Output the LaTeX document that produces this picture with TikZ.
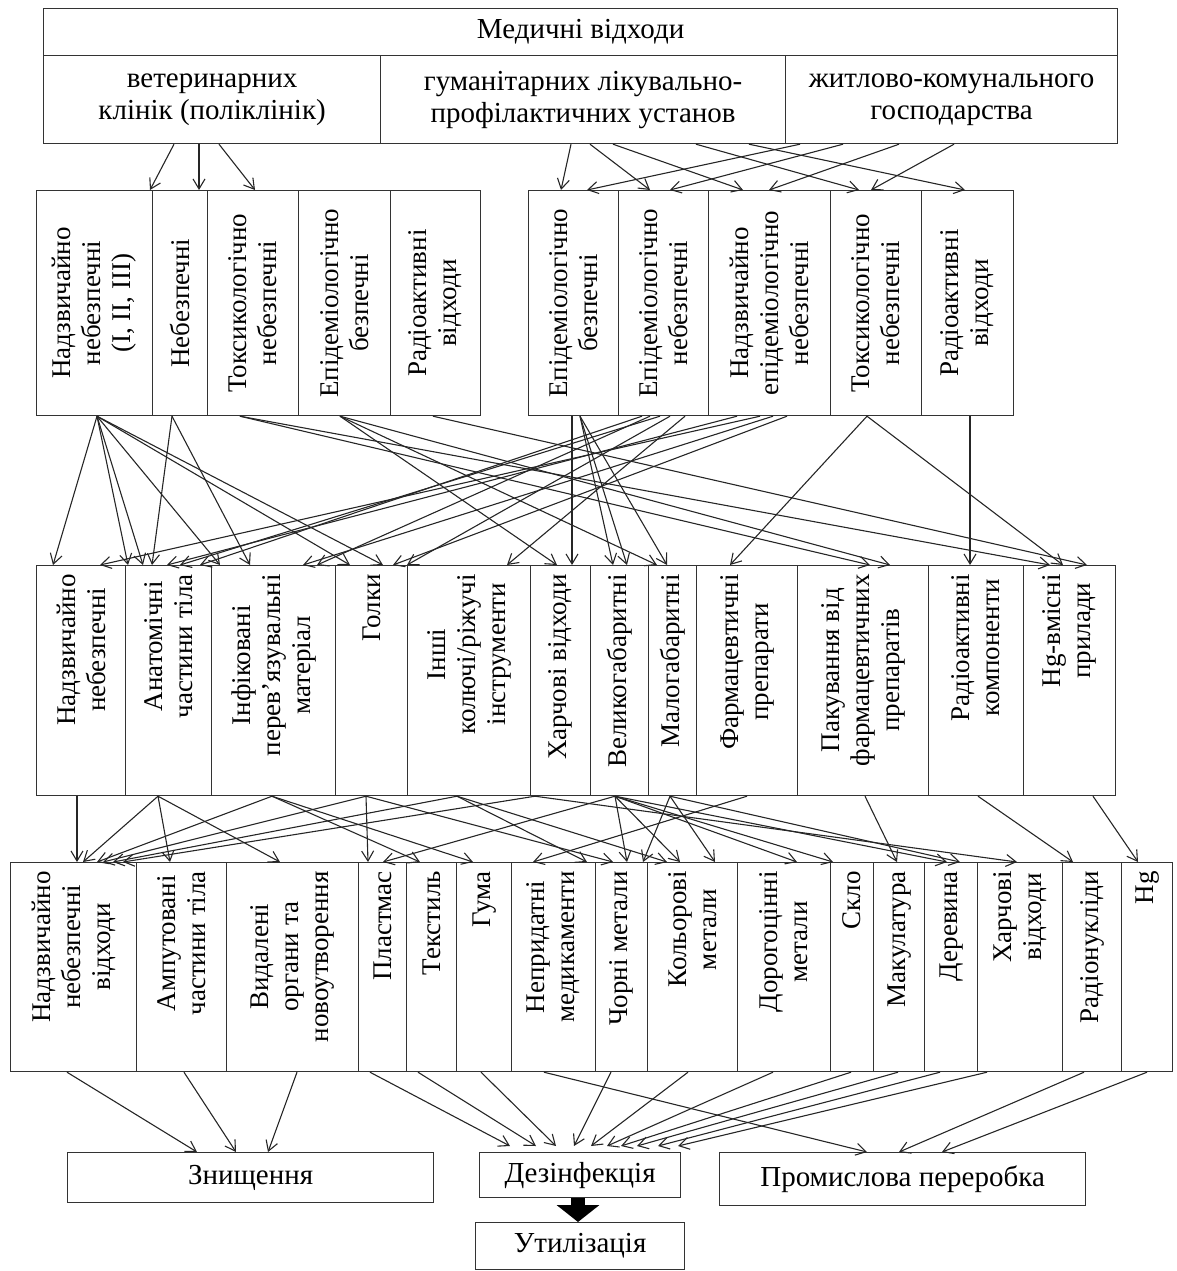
\documentclass[tikz,border=0pt]{standalone}
\usepackage{fontspec}
\setmainfont{Liberation Serif}
\usetikzlibrary{arrows.meta}

\begin{document}
\begin{tikzpicture}[
    x=1pt, y=-1pt,
    every node/.style={font=\fontsize{29}{32}\selectfont},
    box/.style={
        rectangle,
        draw=black!80,
        line width=1.2pt,
        anchor=north west,
        inner sep=0pt,
        align=center
    },
    vtxt/.style={
        rotate=90,
        align=center,
        inner sep=0pt,
        font=\fontsize{27}{30}\selectfont
    },
    arr/.style={
        -{Straight Barb[length=10pt,width=12pt]},
        line width=1.1pt,
        color=black!85
    },
    fat/.style={
        -{Triangle[length=17pt,width=42pt]},
        line width=14pt
    }
]
\useasboundingbox (0,0) rectangle (1177,1271);

% sources
\node[box, minimum width=1074pt, minimum height=47pt] (med) at (43,8) {Медичні відходи};
\node[box, minimum width=337pt, minimum height=88pt] (vet) at (43,55) {ветеринарних\\клінік (поліклінік)};
\node[box, minimum width=405pt, minimum height=88pt] (hum) at (380,55) {гуманітарних лікувально-\\профілактичних установ};
\node[box, minimum width=332pt, minimum height=88pt] (zhk) at (785,55) {житлово-комунального\\господарства};

% hazard classes
\node[box, minimum width=116pt, minimum height=225pt] (a1) at (36,190) {};
\node[box, minimum width=55pt, minimum height=225pt] (a2) at (152,190) {};
\node[box, minimum width=91pt, minimum height=225pt] (a3) at (207,190) {};
\node[box, minimum width=92pt, minimum height=225pt] (a4) at (298,190) {};
\node[box, minimum width=90pt, minimum height=225pt] (a5) at (390,190) {};
\node[box, minimum width=90pt, minimum height=225pt] (b1) at (528,190) {};
\node[box, minimum width=90pt, minimum height=225pt] (b2) at (618,190) {};
\node[box, minimum width=122pt, minimum height=225pt] (b3) at (708,190) {};
\node[box, minimum width=91pt, minimum height=225pt] (b4) at (830,190) {};
\node[box, minimum width=92pt, minimum height=225pt] (b5) at (921,190) {};
\node[vtxt] (a1t) at (a1) {Надзвичайно\\небезпечні\\(I, II, III)};
\node[vtxt] (a2t) at (a2) {Небезпечні};
\node[vtxt] (a3t) at (a3) {Токсикологічно\\небезпечні};
\node[vtxt] (a4t) at (a4) {Епідеміологічно\\безпечні};
\node[vtxt] (a5t) at (a5) {Радіоактивні\\відходи};
\node[vtxt] (b1t) at (b1) {Епідеміологічно\\безпечні};
\node[vtxt] (b2t) at (b2) {Епідеміологічно\\небезпечні};
\node[vtxt] (b3t) at (b3) {Надзвичайно\\епідеміологічно\\небезпечні};
\node[vtxt] (b4t) at (b4) {Токсикологічно\\небезпечні};
\node[vtxt] (b5t) at (b5) {Радіоактивні\\відходи};

% waste kinds
\node[box, minimum width=89pt, minimum height=230pt] (c1) at (36,565) {};
\node[box, minimum width=86pt, minimum height=230pt] (c2) at (125,565) {};
\node[box, minimum width=124pt, minimum height=230pt] (c3) at (211,565) {};
\node[box, minimum width=72pt, minimum height=230pt] (c4) at (335,565) {};
\node[box, minimum width=123pt, minimum height=230pt] (c5) at (407,565) {};
\node[box, minimum width=60pt, minimum height=230pt] (c6) at (530,565) {};
\node[box, minimum width=58pt, minimum height=230pt] (c7) at (590,565) {};
\node[box, minimum width=48pt, minimum height=230pt] (c8) at (648,565) {};
\node[box, minimum width=101pt, minimum height=230pt] (c9) at (696,565) {};
\node[box, minimum width=131pt, minimum height=230pt] (c10) at (797,565) {};
\node[box, minimum width=95pt, minimum height=230pt] (c11) at (928,565) {};
\node[box, minimum width=92pt, minimum height=230pt] (c12) at (1023,565) {};
\node[vtxt, anchor=east] (c1t) at ([yshift=-9pt]c1.north) {Надзвичайно\\небезпечні};
\node[vtxt, anchor=east] (c2t) at ([yshift=-9pt]c2.north) {Анатомічні\\частини тіла};
\node[vtxt, anchor=east] (c3t) at ([yshift=-9pt]c3.north) {Інфіковані\\перев’язувальні\\матеріал};
\node[vtxt, anchor=east] (c4t) at ([yshift=-9pt]c4.north) {Голки};
\node[vtxt, anchor=east] (c5t) at ([yshift=-9pt]c5.north) {Інші\\колючі/ріжучі\\інструменти};
\node[vtxt, anchor=east] (c6t) at ([yshift=-9pt]c6.north) {Харчові відходи};
\node[vtxt, anchor=east] (c7t) at ([yshift=-9pt]c7.north) {Великогабаритні};
\node[vtxt, anchor=east] (c8t) at ([yshift=-9pt]c8.north) {Малогабаритні};
\node[vtxt, anchor=east] (c9t) at ([yshift=-9pt]c9.north) {Фармацевтичні\\препарати};
\node[vtxt, anchor=east] (c10t) at ([yshift=-9pt]c10.north) {Пакування від\\фармацевтичних\\препаратів};
\node[vtxt, anchor=east] (c11t) at ([yshift=-9pt]c11.north) {Радіоактивні\\компоненти};
\node[vtxt, anchor=east] (c12t) at ([yshift=-9pt]c12.north) {Hg-вмісні\\прилади};

% fractions
\node[box, minimum width=126pt, minimum height=209pt] (d1) at (10,862) {};
\node[box, minimum width=90pt, minimum height=209pt] (d2) at (136,862) {};
\node[box, minimum width=132pt, minimum height=209pt] (d3) at (226,862) {};
\node[box, minimum width=48pt, minimum height=209pt] (d4) at (358,862) {};
\node[box, minimum width=50pt, minimum height=209pt] (d5) at (406,862) {};
\node[box, minimum width=55pt, minimum height=209pt] (d6) at (456,862) {};
\node[box, minimum width=84pt, minimum height=209pt] (d7) at (511,862) {};
\node[box, minimum width=52pt, minimum height=209pt] (d8) at (595,862) {};
\node[box, minimum width=90pt, minimum height=209pt] (d9) at (647,862) {};
\node[box, minimum width=93pt, minimum height=209pt] (d10) at (737,862) {};
\node[box, minimum width=43pt, minimum height=209pt] (d11) at (830,862) {};
\node[box, minimum width=51pt, minimum height=209pt] (d12) at (873,862) {};
\node[box, minimum width=53pt, minimum height=209pt] (d13) at (924,862) {};
\node[box, minimum width=85pt, minimum height=209pt] (d14) at (977,862) {};
\node[box, minimum width=59pt, minimum height=209pt] (d15) at (1062,862) {};
\node[box, minimum width=51pt, minimum height=209pt] (d16) at (1121,862) {};
\node[vtxt, anchor=east] (d1t) at ([yshift=-9pt]d1.north) {Надзвичайно\\небезпечні\\відходи};
\node[vtxt, anchor=east] (d2t) at ([yshift=-9pt]d2.north) {Ампутовані\\частини тіла};
\node[vtxt, anchor=east] (d3t) at ([yshift=-9pt]d3.north) {Видалені\\органи та\\новоутворення};
\node[vtxt, anchor=east] (d4t) at ([yshift=-9pt]d4.north) {Пластмас};
\node[vtxt, anchor=east] (d5t) at ([yshift=-9pt]d5.north) {Текстиль};
\node[vtxt, anchor=east] (d6t) at ([yshift=-9pt]d6.north) {Гума};
\node[vtxt, anchor=east] (d7t) at ([yshift=-9pt]d7.north) {Непридатні\\медикаменти};
\node[vtxt, anchor=east] (d8t) at ([yshift=-9pt]d8.north) {Чорні метали};
\node[vtxt, anchor=east] (d9t) at ([yshift=-9pt]d9.north) {Кольорові\\метали};
\node[vtxt, anchor=east] (d10t) at ([yshift=-9pt]d10.north) {Дорогоцінні\\метали};
\node[vtxt, anchor=east] (d11t) at ([yshift=-9pt]d11.north) {Скло};
\node[vtxt, anchor=east] (d12t) at ([yshift=-9pt]d12.north) {Макулатура};
\node[vtxt, anchor=east] (d13t) at ([yshift=-9pt]d13.north) {Деревина};
\node[vtxt, anchor=east] (d14t) at ([yshift=-9pt]d14.north) {Харчові\\відходи};
\node[vtxt, anchor=east] (d15t) at ([yshift=-9pt]d15.north) {Радіонукліди};
\node[vtxt, anchor=east] (d16t) at ([yshift=-9pt]d16.north) {Hg};

% treatment
\node[box, minimum width=366pt, minimum height=50pt] (zn) at (67,1152) {Знищення};
\node[box, minimum width=201pt, minimum height=45pt] (dez) at (479,1152) {Дезінфекція};
\node[box, minimum width=366pt, minimum height=53pt] (prom) at (719,1152) {Промислова переробка};
\node[box, minimum width=209pt, minimum height=47pt] (util) at (475,1222) {Утилізація};
\draw[fat] (dez.south -| 578,0) -- (util.north -| 578,0);

% sources -> classes
\path[arr] (vet.south -| 174,0) edge (a2.north -| 150,0);
\path[arr] (vet.south -| 199,0) edge (a2.north -| 199,0);
\path[arr] (vet.south -| 219,0) edge (a3.north -| 255,0);
\path[arr] (hum.south -| 571,0) edge (b1.north -| 561,0);
\path[arr] (hum.south -| 590,0) edge (b2.north -| 650,0);
\path[arr] (hum.south -| 613,0) edge (b3.north -| 743,0);
\path[arr] (hum.south -| 696,0) edge (b4.north -| 859,0);
\path[arr] (hum.south -| 749,0) edge (b5.north -| 965,0);
\path[arr] (zhk.south -| 800,0) edge (b1.north -| 587,0);
\path[arr] (zhk.south -| 843,0) edge (b2.north -| 670,0);
\path[arr] (zhk.south -| 899,0) edge (b3.north -| 769,0);
\path[arr] (zhk.south -| 954,0) edge (b4.north -| 871,0);

% classes -> kinds
\path[arr] (a1.south -| 97,0) edge (c1.north -| 53,0) edge (c2.north -| 128,0)
    edge (c2.north -| 143,0) edge (c3.north -| 220,0) edge (c4.north -| 350,0)
    edge (c4.north -| 383,0);
\path[arr] (a2.south -| 172,0) edge (c2.north -| 152,0) edge (c3.north -| 250,0);
\path[arr] (a3.south -| 240,0) edge (c10.north -| 870,0) edge (c12.north -| 1050,0);
\path[arr] (a4.south -| 340,0) edge (c6.north -| 557,0) edge (c8.north -| 657,0)
    edge (c10.north -| 890,0);
\path[arr] (a5.south -| 433,0) edge (c12.north -| 1087,0);
\path[arr] (b1.south -| 572,0) edge (c6.north -| 572,0);
\path[arr] (b1.south -| 580,0) edge (c7.north -| 613,0) edge (c7.north -| 627,0)
    edge (c8.north -| 667,0);
\path[arr] (b2.south -| 642,0) edge (c2.north -| 200,0);
\path[arr] (b2.south -| 650,0) edge (c3.north -| 317,0);
\path[arr] (b2.south -| 660,0) edge (c2.north -| 180,0);
\path[arr] (b2.south -| 670,0) edge (c4.north -| 407,0);
\path[arr] (b2.south -| 685,0) edge (c5.north -| 507,0);
\path[arr] (b3.south -| 737,0) edge (c2.north -| 167,0);
\path[arr] (b3.south -| 760,0) edge (c2.north -| 100,0);
\path[arr] (b3.south -| 773,0) edge (c3.north -| 303,0);
\path[arr] (b3.south -| 787,0) edge (c4.north -| 393,0);
\path[arr] (b4.south -| 867,0) edge (c9.north -| 730,0) edge (c12.north -| 1063,0);
\path[arr] (b5.south -| 970,0) edge (c11.north -| 970,0);

% kinds -> fractions
\path[arr] (c1.south -| 77,0) edge (d1.north -| 77,0);
\path[arr] (c2.south -| 158,0) edge (d1.north -| 83,0) edge (d2.north -| 170,0)
    edge (d3.north -| 280,0);
\path[arr] (c3.south -| 272,0) edge (d1.north -| 97,0) edge (d5.north -| 420,0)
    edge (d6.north -| 473,0);
\path[arr] (c4.south -| 366,0) edge (d1.north -| 103,0) edge (d4.north -| 368,0)
    edge (d8.north -| 613,0);
\path[arr] (c5.south -| 457,0) edge (d1.north -| 113,0) edge (d7.north -| 587,0)
    edge (d9.north -| 667,0);
\path[arr] (c6.south -| 535,0) edge (d1.north -| 123,0) edge (d14.north -| 1017,0);
\path[arr] (c7.south -| 615,0) edge (d4.north -| 383,0) edge (d8.north -| 627,0)
    edge (d9.north -| 680,0) edge (d10.north -| 797,0) edge (d11.north -| 833,0)
    edge (d13.north -| 947,0);
\path[arr] (c8.south -| 670,0) edge (d8.north -| 643,0) edge (d9.north -| 715,0)
    edge (d13.north -| 960,0);
\path[arr] (c9.south -| 747,0) edge (d7.north -| 533,0);
\path[arr] (c10.south -| 865,0) edge (d12.north -| 897,0);
\path[arr] (c11.south -| 978,0) edge (d15.north -| 1073,0);
\path[arr] (c12.south -| 1093,0) edge (d16.north -| 1138,0);

% fractions -> treatment
\path[arr] (d1.south -| 67,0) edge (zn.north -| 197,0);
\path[arr] (d2.south -| 184,0) edge (zn.north -| 236,0);
\path[arr] (d3.south -| 297,0) edge (zn.north -| 268,0);
\path[arr] (d4.south -| 370,0) edge ([yshift=6pt]dez.north -| 510,0);
\path[arr] (d5.south -| 418,0) edge ([yshift=6pt]dez.north -| 536,0);
\path[arr] (d6.south -| 481,0) edge ([yshift=6pt]dez.north -| 556,0);
\path[arr] (d7.south -| 544,0) edge (prom.north -| 867,0);
\path[arr] (d8.south -| 611,0) edge ([yshift=6pt]dez.north -| 574,0);
\path[arr] (d9.south -| 688,0) edge ([yshift=6pt]dez.north -| 591,0);
\path[arr] (d10.south -| 773,0) edge ([yshift=6pt]dez.north -| 607,0);
\path[arr] (d11.south -| 851,0) edge ([yshift=6pt]dez.north -| 621,0);
\path[arr] (d12.south -| 898,0) edge ([yshift=6pt]dez.north -| 637,0);
\path[arr] (d13.south -| 940,0) edge ([yshift=6pt]dez.north -| 658,0);
\path[arr] (d14.south -| 987,0) edge ([yshift=6pt]dez.north -| 678,0);
\path[arr] (d15.south -| 1084,0) edge (prom.north -| 899,0);
\path[arr] (d16.south -| 1147,0) edge (prom.north -| 942,0);
\end{tikzpicture}
\end{document}
